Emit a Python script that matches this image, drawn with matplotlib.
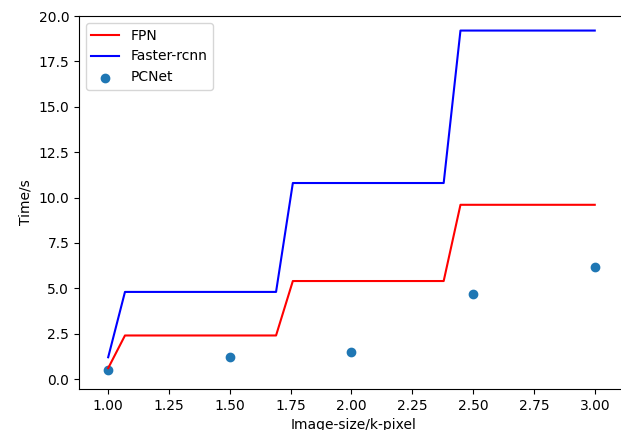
import matplotlib
matplotlib.use("Agg")
import matplotlib.pyplot as plt

# Values
fpn_x = [1.0, 1.069, 1.690, 1.759, 2.379, 2.448, 3.0]
fpn_y = [0.6, 2.4, 2.4, 5.4, 5.4, 9.6, 9.6]

frcnn_x = [1.0, 1.069, 1.690, 1.759, 2.379, 2.448, 3.0]
frcnn_y = [1.2, 4.8, 4.8, 10.8, 10.8, 19.2, 19.2]

pcnet_x = [1.0, 1.5, 2.0, 2.5, 3.0]
pcnet_y = [0.5, 1.2, 1.5, 4.7, 6.2]

fig = plt.figure(figsize=(6.21, 4.30), dpi=100)
# the reference is a cropped screenshot: right spine and xlabel run off the edge
ax = fig.add_axes([0.1272, 0.0953, 0.885, 0.8674])

ax.plot(fpn_x, fpn_y, color="red", label="FPN")
ax.plot(frcnn_x, frcnn_y, color="blue", label="Faster-rcnn")
ax.scatter(pcnet_x, pcnet_y, label="PCNet")

ax.set_xlim(0.88, 3.139)
ax.set_ylim(-0.55, 20.0)
ax.set_xticks([1.0, 1.25, 1.5, 1.75, 2.0, 2.25, 2.5, 2.75, 3.0])
ax.set_yticks([0.0, 2.5, 5.0, 7.5, 10.0, 12.5, 15.0, 17.5, 20.0])
ax.set_xlabel("Image-size/k-pixel")
ax.set_ylabel("Time/s")
ax.legend(loc="upper left")

fig.savefig("out.png", dpi=100)
